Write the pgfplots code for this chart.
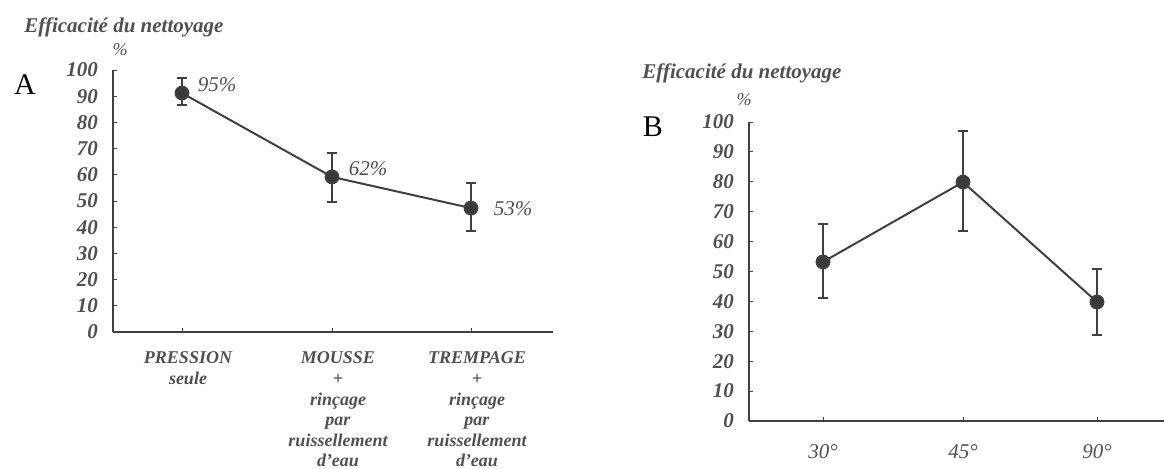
\documentclass[border=0pt]{standalone}
\usepackage{pgfplots}
\pgfplotsset{compat=1.18}
\usepackage{fontspec}
\setmainfont{Liberation Serif}
\definecolor{ink}{HTML}{404040}
\definecolor{txt}{HTML}{505050}
\pgfplotsset{
  panel/.style={
    scale only axis, axis lines=left, axis line style={-, ink, line width=0.8pt},
    ymin=0, ymax=100, ytick={0,10,...,100},
    tick align=inside, major tick length=2pt, tick style={ink, line width=0.5pt},
    /pgf/number format/assume math mode=true,
    yticklabel style={font=\fontsize{10.5}{10.5}\selectfont\itshape\bfseries, text=txt, xshift=-4pt},
    xticklabel style={text=txt},
    clip=false,
  },
  serie/.style={
    ink, line width=1pt, mark=*, mark size=3.2pt, mark options={fill=ink!90!black},
    error bars/.cd, y dir=both, y explicit,
    error bar style={line width=1pt, ink},
    error mark options={rotate=90, mark size=2.5pt, line width=1pt, ink},
  },
}
\begin{document}
\begin{tikzpicture}
\path[use as bounding box] (0,0) rectangle (582pt,234pt);
\tikzset{lab/.style={text=txt, font=\fontsize{10.5}{10.5}\selectfont\itshape\bfseries, inner sep=0pt}}
% panneau A
\node[lab] at (62pt,220.5pt) {Efficacité du nettoyage};
\node[lab, font=\fontsize{9}{9}\selectfont\itshape] at (60pt,209pt) {\%};
\node[font=\fontsize{15}{15}\selectfont, inner sep=0pt] at (12.5pt,191.5pt) {A};
\begin{axis}[panel,
  at={(56.5pt,68pt)}, anchor=south west, width=220pt, height=131pt,
  xmin=113, xmax=553, xtick={182,332,471},
  xticklabels={{PRESSION\\seule},
               {MOUSSE\\+\\rinçage\\par\\ruissellement\\d'eau},
               {TREMPAGE\\+\\rinçage\\par\\ruissellement\\d'eau}},
  xticklabel style={align=center, font=\fontsize{9}{10.3}\selectfont\itshape\bfseries, yshift=-6.5pt, xshift=3pt},
]
\addplot[serie] coordinates {
  (182,91.2) += (0,5.8) -= (0,4.6)
  (332,59.2) += (0,9.1) -= (0,9.6)
  (471,47.3) += (0,9.6) -= (0,8.8)
};
\node[lab, font=\fontsize{10.5}{10.5}\selectfont\itshape] at (axis cs:217,94.3) {95\%};
\node[lab, font=\fontsize{10.5}{10.5}\selectfont\itshape] at (axis cs:368,62.2) {62\%};
\node[lab, font=\fontsize{10.5}{10.5}\selectfont\itshape] at (axis cs:513,46.9) {53\%};
\end{axis}
% panneau B
\node[lab] at (371pt,197.5pt) {Efficacité du nettoyage};
\node[lab, font=\fontsize{9}{9}\selectfont\itshape] at (372pt,184pt) {\%};
\node[font=\fontsize{15}{15}\selectfont, inner sep=0pt] at (326.5pt,170.5pt) {B};
\begin{axis}[panel,
  at={(374.5pt,23.5pt)}, anchor=south west, width=207.5pt, height=149.5pt,
  xmin=749, xmax=1164, xtick={823,963,1097},
  xticklabels={30°,45°,90°},
  xticklabel style={font=\fontsize{10.5}{10.5}\selectfont\itshape, yshift=-8pt},
]
\addplot[serie] coordinates {
  (823,53.2) += (0,12.7) -= (0,12.1)
  (963,79.9) += (0,17.1) -= (0,16.4)
  (1097,39.8) += (0,11.0) -= (0,11.0)
};
\end{axis}
\end{tikzpicture}
\end{document}
